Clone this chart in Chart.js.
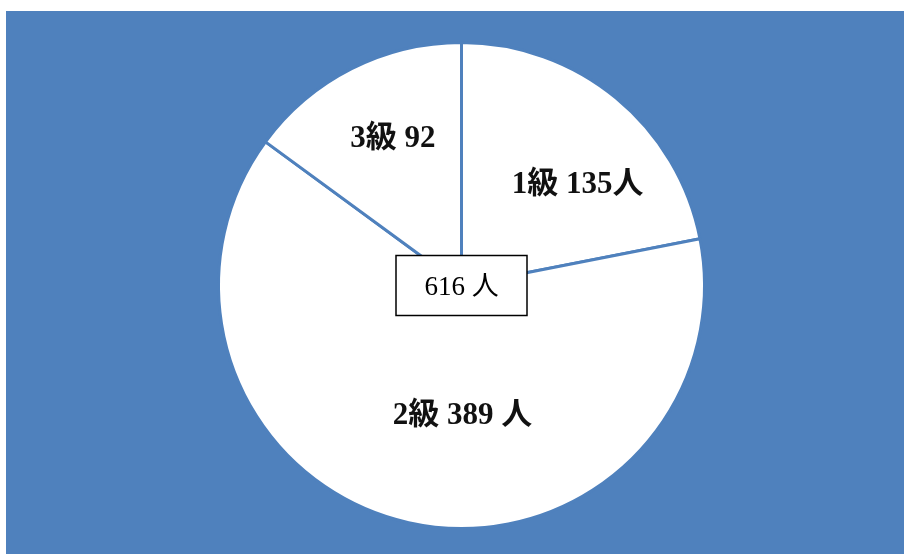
<!DOCTYPE html>
<html lang="ja">
<head>
<meta charset="utf-8">
<title>等級別人数</title>
<script src="https://cdn.jsdelivr.net/npm/chart.js@4/dist/chart.umd.min.js"></script>
<style>
  html, body { margin: 0; padding: 0; background: #fff; }
  #wrap { position: relative; width: 904px; height: 554px; overflow: hidden; }
  #panel { position: absolute; left: 6px; top: 11px; right: 0; bottom: 0; background: #4f81bd; }
  #chart { position: absolute; left: 0; top: 0; }
</style>
</head>
<body>
<div id="wrap">
  <div id="panel"></div>
  <canvas id="chart" width="904" height="554"></canvas>
</div>
<script>
// 等級ごとの人数
const grades = ['1級', '2級', '3級'];
const counts = [135, 389, 92];
const units = ['人', ' 人', ''];
const totalLabel = '人';

// ラベルの置き場所（中心からの位置を半径比で指定）
const labelSpots = [
  { x: 0.478, y: -0.412 },
  { x: 0.004, y: 0.535 },
  { x: -0.282, y: -0.603 }
];

const blue = '#4f81bd';
const labelFont = 'bold 31px "Liberation Serif", "Noto Sans CJK JP", serif';
const boxFont = '27px "Liberation Serif", "Noto Sans CJK JP", serif';

const sliceLabels = {
  id: 'sliceLabels',
  afterDraw(chart) {
    const ctx = chart.ctx;
    const arcs = chart.getDatasetMeta(0).data;
    if (!arcs.length) return;
    const cx = arcs[0].x;
    const cy = arcs[0].y;
    const r = arcs[0].outerRadius;

    ctx.save();
    ctx.fillStyle = '#111';
    ctx.font = labelFont;
    ctx.textAlign = 'center';
    ctx.textBaseline = 'middle';
    grades.forEach((g, i) => {
      const spot = labelSpots[i];
      const text = g + ' ' + counts[i] + units[i];
      ctx.fillText(text, cx + spot.x * r, cy + spot.y * r);
    });

    // 中央の合計ボックス
    const total = counts.reduce((a, b) => a + b, 0);
    const bw = 131, bh = 60;
    ctx.fillStyle = '#fff';
    ctx.fillRect(cx - bw / 2, cy - bh / 2, bw, bh);
    ctx.strokeStyle = '#000';
    ctx.lineWidth = 1.5;
    ctx.strokeRect(cx - bw / 2, cy - bh / 2, bw, bh);
    ctx.fillStyle = '#000';
    ctx.font = boxFont;
    ctx.fillText(total + ' ' + totalLabel, cx, cy + 2);
    ctx.restore();
  }
};

new Chart(document.getElementById('chart'), {
  type: 'pie',
  data: {
    labels: grades,
    datasets: [{
      data: counts,
      backgroundColor: '#ffffff',
      borderColor: blue,
      borderWidth: 3
    }]
  },
  options: {
    responsive: false,
    maintainAspectRatio: false,
    animation: false,
    layout: { padding: { left: 217, top: 41, right: 198, bottom: 24 } },
    plugins: {
      legend: { display: false },
      tooltip: { enabled: false },
      title: { display: false }
    }
  },
  plugins: [sliceLabels]
});
</script>
</body>
</html>
